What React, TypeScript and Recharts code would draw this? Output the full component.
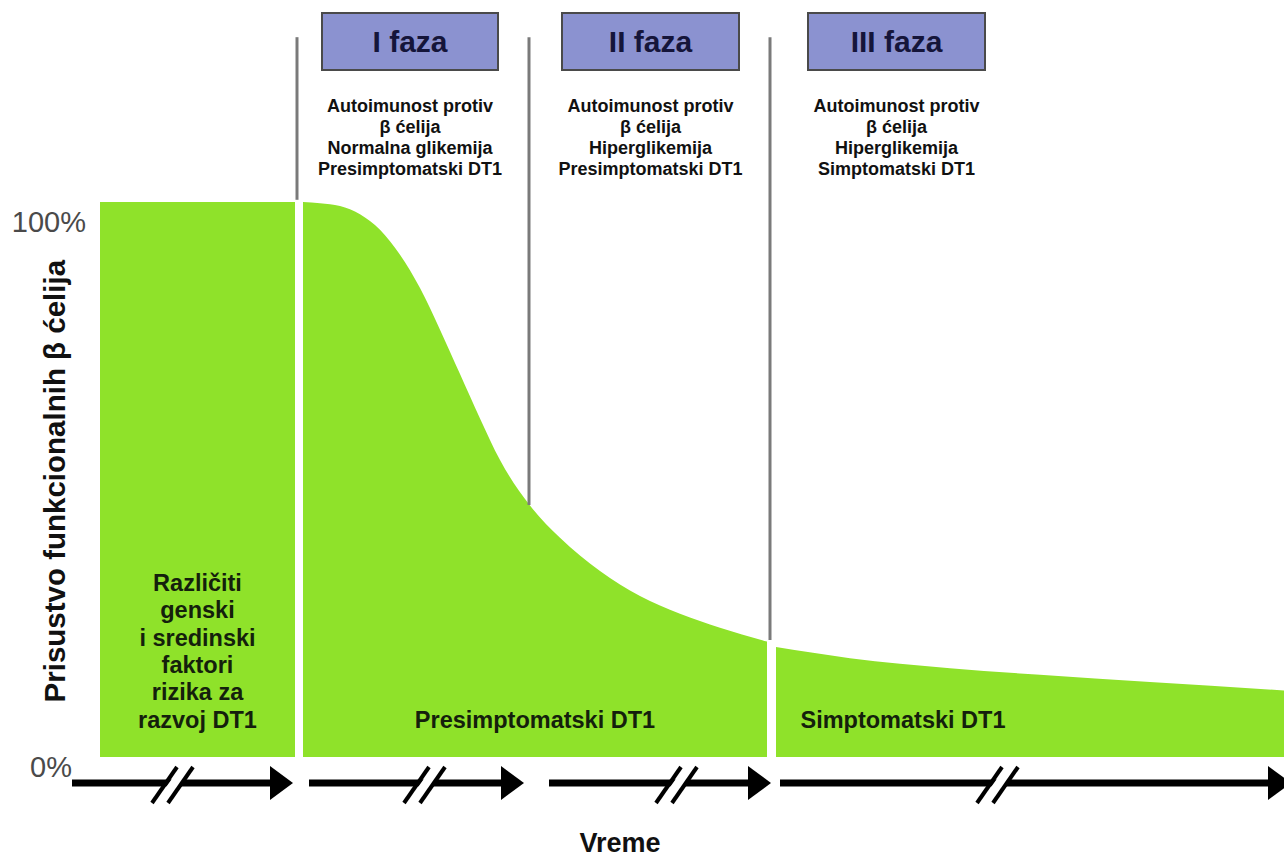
import React from "react";
import {
  ComposedChart,
  Area,
  XAxis,
  YAxis,
  ReferenceLine,
  ReferenceArea,
} from "recharts";

// time runs left to right in arbitrary units, beta cell function in %
const riskTime = [0, 195];
const riskLevel = [100, 100];

const preTime = [203, 220, 240, 260, 280, 300, 320, 340, 360, 380, 400, 430, 460, 500, 540, 580, 620, 667];
const preLevel = [100, 99.8, 99.3, 97.8, 95, 90.5, 84.5, 77, 69, 61, 53.5, 45.3, 39.5, 33.5, 29, 25.8, 23.3, 20.8];

const sympTime = [676, 750, 850, 940, 1050, 1184];
const sympLevel = [19.8, 17.8, 16, 14.8, 13.5, 12];

const yTicks = [0, 100];

const phaseNames = ["I faza", "II faza", "III faza"];
const phaseStart = [222, 462, 708];
const phaseEnd = [398, 639, 885];
const phaseNotes = [
  ["Autoimunost protiv", "β ćelija", "Normalna glikemija", "Presimptomatski DT1"],
  ["Autoimunost protiv", "β ćelija", "Hiperglikemija", "Presimptomatski DT1"],
  ["Autoimunost protiv", "β ćelija", "Hiperglikemija", "Simptomatski DT1"],
];

const dividerTime = [197, 429, 670];
const dividerBottom = [100.4, 45.4, 21.1];

const riskNote = ["Različiti", "genski", "i sredinski", "faktori", "rizika za", "razvoj DT1"];

const GREEN = "#8FE22A";
const FONT = "'Liberation Sans', Arial, sans-serif";

const W = 1284;
const H = 858;
const LEFT = 100;
const BOTTOM = 101;
const Y_MAX = 136.4;

const data = [
  ...riskTime.map((t, i) => ({ t, risk: riskLevel[i] })),
  ...preTime.map((t, i) => ({ t, pre: preLevel[i] })),
  ...sympTime.map((t, i) => ({ t, symp: sympLevel[i] })),
].sort((a, b) => a.t - b.t);

// same linear map the chart uses, for the overlay
const px = (t: number) => LEFT + (t / 1184) * (W - LEFT);
const py = (v: number) => (H - BOTTOM) - (v / Y_MAX) * (H - BOTTOM);

const arrows = [
  { from: 72, to: 293, cut: 152 },
  { from: 309, to: 524, cut: 404 },
  { from: 549, to: 771, cut: 656 },
  { from: 780, to: 1291, cut: 977 },
];

const YTick = (props: any) => {
  const { y, payload } = props;
  const top = payload.value === 100;
  return (
    <text
      x={top ? 86 : 72}
      y={y + (top ? 20 : 10)}
      dy="0.35em"
      textAnchor="end"
      fill="#4a4a4a"
      fontSize={29}
      fontFamily={FONT}
    >
      {payload.value}%
    </text>
  );
};

export default function App() {
  const arrowY = 783;
  return (
    <div style={{ position: "absolute", left: 0, top: 0, width: W, height: H, background: "#fff" }}>
      <ComposedChart width={W} height={H} data={data} margin={{ top: 0, right: 0, bottom: BOTTOM, left: 0 }}>
        <XAxis type="number" dataKey="t" domain={[0, 1184]} hide />
        <YAxis
          type="number"
          domain={[0, Y_MAX]}
          ticks={yTicks}
          width={LEFT}
          axisLine={false}
          tickLine={false}
          tick={<YTick />}
        />
        <Area dataKey="risk" type="linear" stroke="none" fill={GREEN} fillOpacity={1} isAnimationActive={false} />
        <Area dataKey="pre" type="monotone" stroke="none" fill={GREEN} fillOpacity={1} isAnimationActive={false} />
        <Area dataKey="symp" type="monotone" stroke="none" fill={GREEN} fillOpacity={1} isAnimationActive={false} />
        {dividerTime.map((t, i) => (
          <ReferenceLine
            key={t}
            segment={[{ x: t, y: 129.7 }, { x: t, y: dividerBottom[i] }]}
            stroke="#7a7a7a"
            strokeWidth={3}
            ifOverflow="visible"
          />
        ))}
        {phaseNames.map((name, i) => (
          <ReferenceArea
            key={name}
            x1={phaseStart[i]}
            x2={phaseEnd[i]}
            y1={123.8}
            y2={134.05}
            fill="#8b92d0"
            fillOpacity={1}
            stroke="#4a4a4a"
            strokeWidth={2}
            ifOverflow="visible"
            label={{ value: name, position: "center", fill: "#15153a", fontSize: 30, fontWeight: "bold", fontFamily: FONT }}
          />
        ))}
      </ComposedChart>

      <svg width={W} height={H} style={{ position: "absolute", left: 0, top: 0, pointerEvents: "none" }}>
        <g fontFamily={FONT} fontWeight="bold">
          {phaseNotes.map((lines, i) => (
            <text key={i} textAnchor="middle" fontSize={18} fill="#111">
              {lines.map((l, j) => (
                <tspan key={j} x={px((phaseStart[i] + phaseEnd[i]) / 2)} y={112 + j * 21}>
                  {l}
                </tspan>
              ))}
            </text>
          ))}
          <text textAnchor="middle" fontSize={23.5} fill="#14200c">
            {riskNote.map((l, j) => (
              <tspan key={j} x={px(97.5)} y={591 + j * 27.3}>
                {l}
              </tspan>
            ))}
          </text>
          <text x={px(435)} y={728} textAnchor="middle" fontSize={23.5} fill="#14200c">
            Presimptomatski DT1
          </text>
          <text x={px(803)} y={728} textAnchor="middle" fontSize={23.5} fill="#14200c">
            Simptomatski DT1
          </text>
          <text x={620} y={852} textAnchor="middle" fontSize={27} fill="#111">
            Vreme
          </text>
          <text
            transform={`translate(65, ${py(49.7)}) rotate(-90)`}
            textAnchor="middle"
            fontSize={29.5}
            fill="#111"
          >
            Prisustvo funkcionalnih β ćelija
          </text>
        </g>
        {arrows.map((a, i) => (
          <g key={i}>
            <line x1={a.from} y1={arrowY} x2={a.to - 20} y2={arrowY} stroke="#000" strokeWidth={7} />
            <polygon points={`${a.to},${arrowY} ${a.to - 23},${arrowY - 17} ${a.to - 23},${arrowY + 17}`} fill="#000" />
            <polygon
              points={`${a.cut + 4},${arrowY + 18} ${a.cut + 27},${arrowY - 14} ${a.cut + 39},${arrowY - 14} ${a.cut + 16},${arrowY + 18}`}
              fill="#fff"
            />
            <line x1={a.cut} y1={arrowY + 20} x2={a.cut + 25} y2={arrowY - 16} stroke="#000" strokeWidth={4} />
            <line x1={a.cut + 16} y1={arrowY + 20} x2={a.cut + 41} y2={arrowY - 16} stroke="#000" strokeWidth={4} />
          </g>
        ))}
      </svg>
    </div>
  );
}
